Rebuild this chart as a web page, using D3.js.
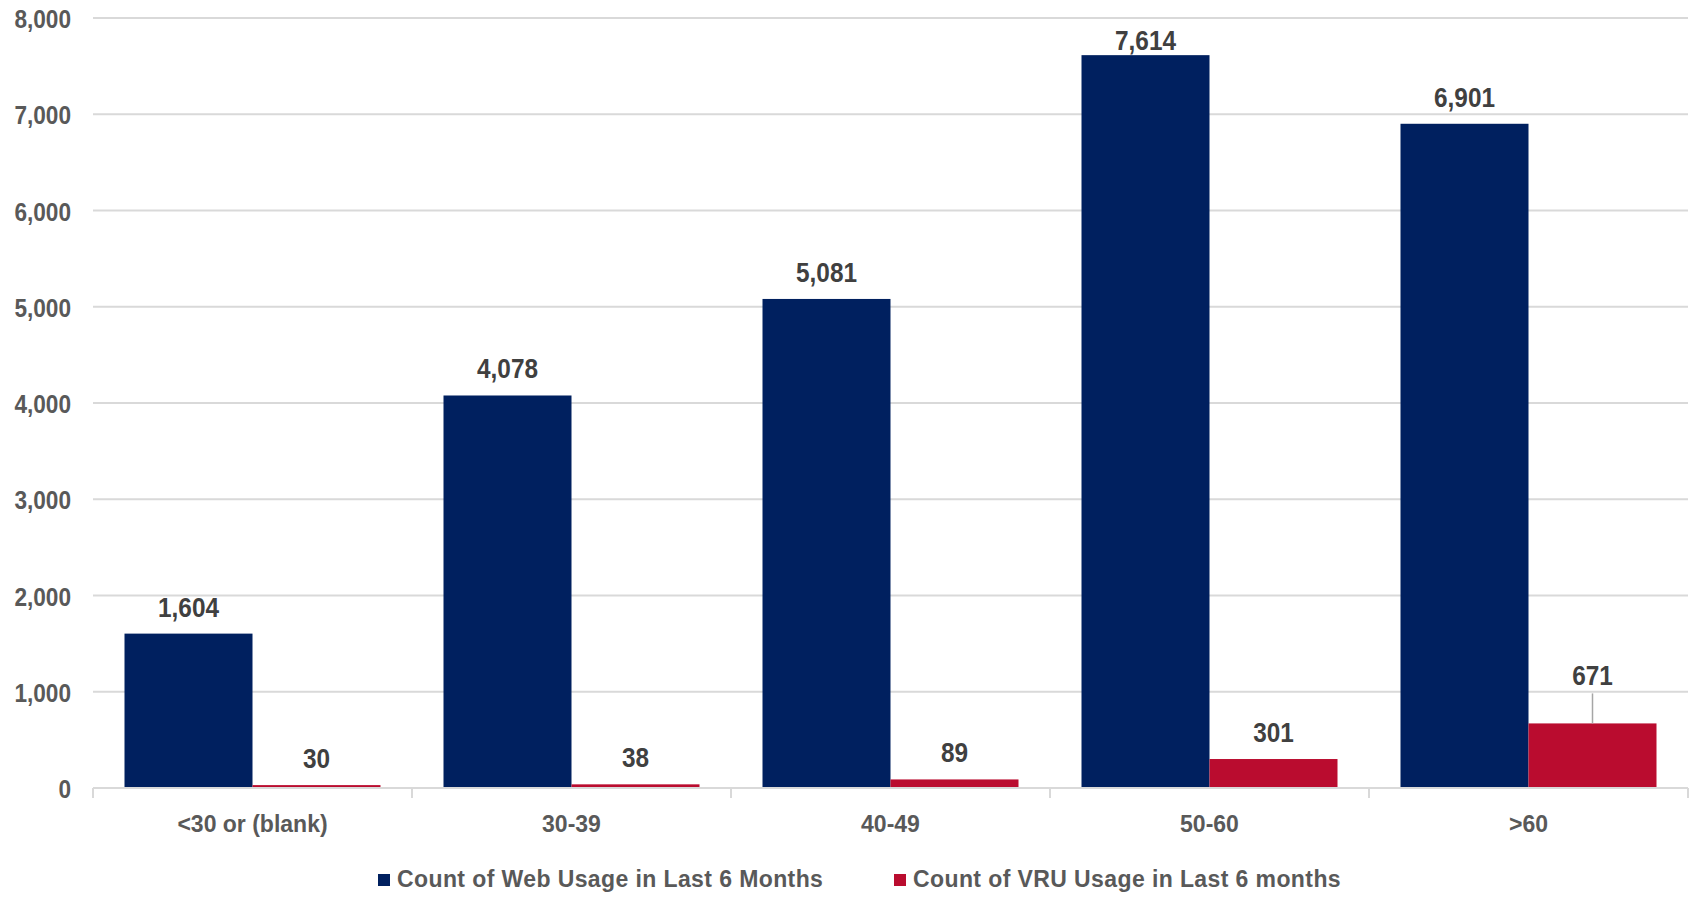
<!DOCTYPE html>
<html>
<head>
<meta charset="utf-8">
<script src="https://cdn.jsdelivr.net/npm/d3@7"></script>
<style>
  html, body { margin: 0; padding: 0; background: #ffffff; }
  svg { display: block; font-family: "Liberation Sans", Arial, sans-serif; }
</style>
</head>
<body>
<svg id="chart" width="1690" height="898"></svg>
<script>
// Age bands and usage counts
const categories = ["<30 or (blank)", "30-39", "40-49", "50-60", ">60"];
const webUsage = [1604, 4078, 5081, 7614, 6901];
const vruUsage = [30, 38, 89, 301, 671];
const seriesNames = ["Count of Web Usage in Last 6 Months", "Count of VRU Usage in Last 6 months"];
const yTicks = [0, 1000, 2000, 3000, 4000, 5000, 6000, 7000, 8000];

const colors = ["#00205F", "#BA0C2F"];
const series = [webUsage, vruUsage];

const svg = d3.select("#chart");
const plot = { left: 93, right: 1688, top: 18, bottom: 788 };

const x = d3.scaleBand()
  .domain(categories)
  .range([plot.left, plot.right])
  .paddingInner(0.1975)
  .paddingOuter(0.09875);

const xs = d3.scaleBand()
  .domain(d3.range(series.length))
  .range([0, x.bandwidth()]);

const y = d3.scaleLinear().domain([0, 8000]).range([plot.bottom, plot.top]);
const fmt = d3.format(",");

// Gridlines
svg.append("g")
  .selectAll("line")
  .data(yTicks.filter(d => d > 0))
  .join("line")
  .attr("x1", plot.left).attr("x2", plot.right)
  .attr("y1", d => y(d)).attr("y2", d => y(d))
  .attr("stroke", "#D9D9D9").attr("stroke-width", 2);

// Y-axis labels (narrow bold numerals)
svg.append("g")
  .selectAll("text")
  .data(yTicks)
  .join("text")
  .attr("transform", d => `translate(71,${y(d) + 10}) scale(0.87,1)`)
  .attr("text-anchor", "end")
  .attr("font-size", 26)
  .attr("font-weight", "bold")
  .attr("fill", "#595959")
  .text(d => fmt(d));

// Bars
const groups = svg.append("g")
  .selectAll("g")
  .data(categories)
  .join("g")
  .attr("transform", d => `translate(${x(d)},0)`);

groups.selectAll("rect")
  .data((c, i) => series.map((s, k) => ({ k, v: s[i] })))
  .join("rect")
  .attr("x", d => xs(d.k))
  .attr("width", xs.bandwidth())
  .attr("y", d => y(d.v))
  .attr("height", d => y(0) - y(d.v))
  .attr("fill", d => colors[d.k]);

// X axis line and category dividers
const axis = svg.append("g");
axis.append("line")
  .attr("x1", plot.left).attr("x2", plot.right)
  .attr("y1", plot.bottom).attr("y2", plot.bottom)
  .attr("stroke", "#D9D9D9").attr("stroke-width", 2);
const step = x.step();
axis.selectAll("line.tick")
  .data(d3.range(categories.length + 1))
  .join("line")
  .attr("class", "tick")
  .attr("x1", i => plot.left + i * step).attr("x2", i => plot.left + i * step)
  .attr("y1", plot.bottom).attr("y2", plot.bottom + 10)
  .attr("stroke", "#D9D9D9").attr("stroke-width", 2);

axis.selectAll("text")
  .data(categories)
  .join("text")
  .attr("x", d => x(d) + x.bandwidth() / 2)
  .attr("y", 832)
  .attr("text-anchor", "middle")
  .attr("font-size", 23)
  .attr("font-weight", "bold")
  .attr("fill", "#595959")
  .text(d => d);

// Data labels above each bar; the >60 VRU label sits higher with a leader line
const labelGap = 17;
const leaderLift = 21;
const labels = svg.append("g");
categories.forEach((c, i) => {
  series.forEach((s, k) => {
    const v = s[i];
    const cx = x(c) + xs(k) + xs.bandwidth() / 2;
    const top = y(v);
    let base = Math.max(top - labelGap, 50);
    const lifted = (k === 1 && i === categories.length - 1);
    if (lifted) {
      base = top - labelGap - leaderLift;
      labels.append("line")
        .attr("x1", cx).attr("x2", cx)
        .attr("y1", base + 8).attr("y2", top)
        .attr("stroke", "#A6A6A6").attr("stroke-width", 1.5);
    }
    labels.append("text")
      .attr("transform", `translate(${cx},${base}) scale(0.87,1)`)
      .attr("text-anchor", "middle")
      .attr("font-size", 28)
      .attr("font-weight", "bold")
      .attr("fill", "#404040")
      .text(fmt(v));
  });
});

// Legend
const legendItems = [
  { name: seriesNames[0], color: colors[0], x: 378 },
  { name: seriesNames[1], color: colors[1], x: 894 }
];
const legend = svg.append("g");
legendItems.forEach(item => {
  legend.append("rect")
    .attr("x", item.x).attr("y", 874)
    .attr("width", 12).attr("height", 12)
    .attr("fill", item.color);
  legend.append("text")
    .attr("x", item.x + 19).attr("y", 887)
    .attr("font-size", 23)
    .attr("font-weight", "bold")
    .attr("letter-spacing", 0.4)
    .attr("fill", "#595959")
    .text(item.name);
});
</script>
</body>
</html>
